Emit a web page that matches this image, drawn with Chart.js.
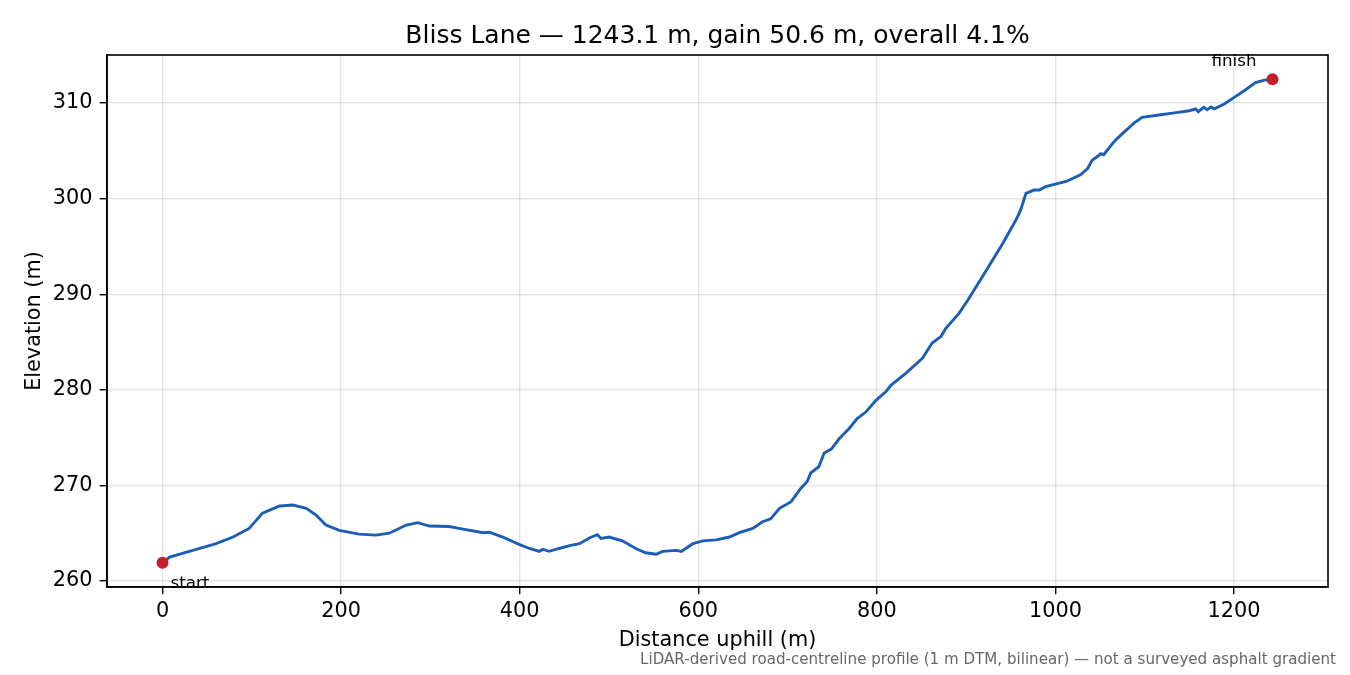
<!DOCTYPE html>
<html>
<head>
<meta charset="utf-8">
<script src="https://cdn.jsdelivr.net/npm/chart.js@4/dist/chart.umd.min.js"></script>
<style>
  html, body { margin: 0; padding: 0; background: #ffffff; }
  #wrap { width: 1350px; height: 675px; }
</style>
</head>
<body>
<div id="wrap"><canvas id="c" width="1350" height="675"></canvas></div>
<script>
// ---- data ----
const titleText = "Bliss Lane \u2014 1243.1 m, gain 50.6 m, overall 4.1%";
const xLabel = "Distance uphill (m)";
const yLabel = "Elevation (m)";
const footnote = "LiDAR-derived road-centreline profile (1 m DTM, bilinear) \u2014 not a surveyed asphalt gradient";
const xTicks = [0, 200, 400, 600, 800, 1000, 1200];
const yTicks = [260, 270, 280, 290, 300, 310];
const distance = [
  0, 8, 34, 60, 79, 97, 112, 131, 146, 161,
  172, 183, 198, 220, 239, 254, 273, 286, 299, 321,
  332, 359, 366, 381, 400, 411, 422, 426, 433, 444,
  456, 467, 478, 487, 491, 500, 515, 530, 541, 553,
  560, 575, 581, 594, 605, 620, 635, 646, 661, 672,
  681, 691, 704, 715, 722, 726, 735, 741, 749, 758,
  769, 778, 788, 799, 810, 816, 832, 851, 862, 872,
  877, 892, 902, 918, 941, 956, 961, 967, 976, 982,
  989, 1012, 1028, 1036, 1041, 1051, 1054, 1066, 1075, 1088,
  1097, 1116, 1131, 1150, 1157, 1160, 1166, 1170, 1174, 1178,
  1189, 1202, 1213, 1224, 1234, 1243.1
];
const elevation = [
  261.9, 262.5, 263.2, 263.9, 264.6, 265.5, 267.1, 267.85, 267.95, 267.6,
  266.9, 265.85, 265.3, 264.9, 264.8, 265.0, 265.85, 266.1, 265.75, 265.7,
  265.5, 265.05, 265.1, 264.6, 263.8, 263.4, 263.1, 263.3, 263.1, 263.4,
  263.7, 263.9, 264.5, 264.85, 264.45, 264.6, 264.2, 263.4, 262.95, 262.8,
  263.1, 263.2, 263.1, 263.9, 264.2, 264.3, 264.6, 265.05, 265.5, 266.2,
  266.5, 267.6, 268.3, 269.7, 270.4, 271.3, 271.95, 273.4, 273.8, 274.9,
  275.95, 277.0, 277.7, 278.9, 279.8, 280.5, 281.7, 283.3, 284.9, 285.6,
  286.4, 288.0, 289.4, 291.8, 295.3, 297.8, 298.8, 300.55, 300.9, 300.9,
  301.25, 301.8, 302.5, 303.15, 304.0, 304.7, 304.6, 306.0, 306.8, 307.9,
  308.5, 308.75, 308.95, 309.2, 309.4, 309.1, 309.55, 309.3, 309.6, 309.4,
  309.9, 310.7, 311.4, 312.15, 312.4, 312.5
];
const endLabels = ["start", "finish"];

// ---- derived ----
const linePts = distance.map((d, i) => ({x: d, y: elevation[i]}));
const last = distance.length - 1;
const endPts = [{x: distance[0], y: elevation[0]}, {x: distance[last], y: elevation[last]}];
const xMinD = Math.min(...distance), xMaxD = Math.max(...distance);
const yMinD = Math.min(...elevation), yMaxD = Math.max(...elevation);
const xPad = (xMaxD - xMinD) * 0.05, yPad = (yMaxD - yMinD) * 0.05;

const FONT = "'DejaVu Sans', 'Liberation Sans', sans-serif";
Chart.defaults.font.family = FONT;
Chart.defaults.color = '#000000';

const decor = {
  id: 'decor',
  afterDraw(chart) {
    const ctx = chart.ctx;
    const a = chart.chartArea;
    const xs = chart.scales.x, ys = chart.scales.y;
    ctx.save();
    // frame (top & right spines)
    ctx.strokeStyle = '#000000';
    ctx.lineWidth = 1.6;
    ctx.strokeRect(a.left, a.top, a.right - a.left, a.bottom - a.top);
    // title
    ctx.fillStyle = '#000000';
    ctx.font = "25px " + FONT;
    ctx.textAlign = 'center';
    ctx.textBaseline = 'alphabetic';
    ctx.fillText(titleText, (a.left + a.right) / 2, a.top - 12.5);
    // start / finish annotations
    ctx.font = "16.7px " + FONT;
    const sx = xs.getPixelForValue(endPts[0].x), sy = ys.getPixelForValue(endPts[0].y);
    ctx.textAlign = 'left';
    ctx.fillText(endLabels[0], sx + 8, sy + 25);
    const fx = xs.getPixelForValue(endPts[1].x), fy = ys.getPixelForValue(endPts[1].y);
    ctx.textAlign = 'right';
    ctx.fillText(endLabels[1], fx - 16, fy - 13);
    // footnote
    ctx.font = "15.1px " + FONT;
    ctx.fillStyle = '#666666';
    ctx.textAlign = 'right';
    ctx.fillText(footnote, 1336, 664);
    ctx.restore();
  }
};

new Chart(document.getElementById('c'), {
  type: 'line',
  data: {
    datasets: [
      {
        label: 'ends',
        data: endPts,
        showLine: false,
        pointRadius: 6,
        pointHoverRadius: 6,
        pointBackgroundColor: '#c41e2a',
        pointBorderColor: '#c41e2a',
        pointBorderWidth: 0,
        order: 0
      },
      {
        label: 'profile',
        data: linePts,
        borderColor: '#1c5db5',
        borderWidth: 2.9,
        pointRadius: 0,
        tension: 0,
        fill: false,
        order: 1
      }
    ]
  },
  options: {
    responsive: false,
    devicePixelRatio: 1,
    animation: false,
    layout: { padding: { top: 55, right: 22, left: 0, bottom: 0 } },
    plugins: {
      legend: { display: false },
      tooltip: { enabled: false },
      title: { display: false }
    },
    scales: {
      x: {
        type: 'linear',
        min: xMinD - xPad,
        max: xMaxD + xPad,
        afterBuildTicks: (s) => { s.ticks = xTicks.map(v => ({value: v})); },
        afterFit: (s) => { s.height = 88; },
        ticks: { font: { size: 20.8 }, color: '#000', padding: 5, maxRotation: 0, autoSkip: false,
                 callback: (v) => String(v) },
        grid: { color: 'rgba(0,0,0,0.1)', lineWidth: 1.4, tickColor: '#000', tickLength: 7.3, tickWidth: 1.4 },
        border: { display: true, color: '#000', width: 1.6 },
        title: { display: true, text: xLabel, font: { size: 20.8 }, color: '#000', padding: { top: 0, bottom: 21.5 } }
      },
      y: {
        type: 'linear',
        min: yMinD - yPad,
        max: yMaxD + yPad,
        afterBuildTicks: (s) => { s.ticks = yTicks.map(v => ({value: v})); },
        afterFit: (s) => { s.width = 107; },
        ticks: { font: { size: 20.8 }, color: '#000', padding: 7.3, autoSkip: false,
                 callback: (v) => String(v) },
        grid: { color: 'rgba(0,0,0,0.1)', lineWidth: 1.4, tickColor: '#000', tickLength: 7.3, tickWidth: 1.4 },
        border: { display: true, color: '#000', width: 1.6 },
        title: { display: true, text: yLabel, font: { size: 20.8 }, color: '#000', padding: { top: 22.5, bottom: 0 } }
      }
    }
  },
  plugins: [decor]
});
</script>
</body>
</html>
